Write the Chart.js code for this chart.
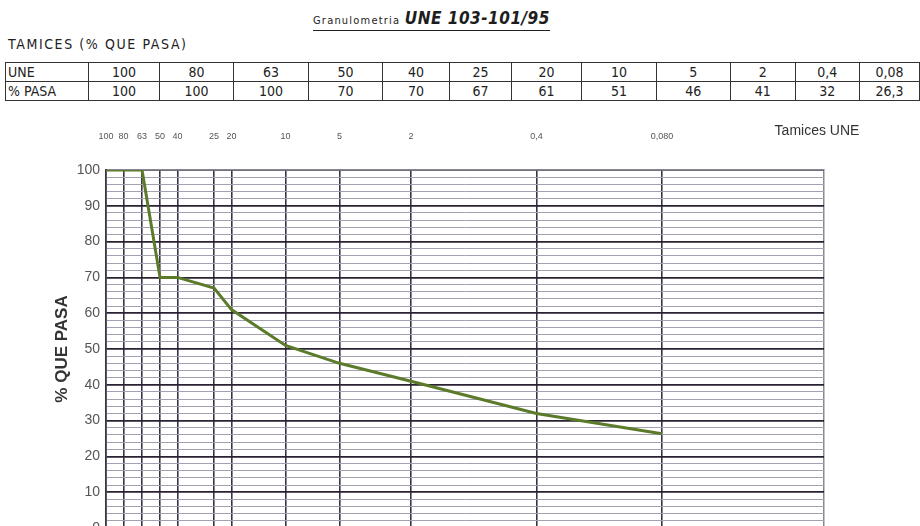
<!DOCTYPE html>
<html><head><meta charset="utf-8">
<script src="https://cdn.jsdelivr.net/npm/chart.js@4/dist/chart.umd.min.js"></script>
<style>
html,body{margin:0;padding:0;width:920px;height:526px;overflow:hidden;background:#fff;}
#title{position:absolute;left:313px;top:9px;white-space:nowrap;font-family:"DejaVu Sans Condensed","DejaVu Sans",sans-serif;color:#1e1e1e;border-bottom:1.5px solid #222;line-height:19px;}
#title .a{font-size:11px;letter-spacing:1.2px;}
#title .b{font-size:17px;font-style:italic;font-weight:bold;letter-spacing:0.5px;}
#sub{position:absolute;left:8px;top:36px;font-family:"DejaVu Sans Condensed","DejaVu Sans",sans-serif;font-size:14px;letter-spacing:1.6px;color:#222;}
#tbl{position:absolute;left:5px;top:62px;border-collapse:collapse;table-layout:fixed;font-family:"DejaVu Sans Condensed","DejaVu Sans",sans-serif;font-size:14px;color:#222;}
#tbl td{border:1.5px solid #333;height:18px;padding:0 2px;text-align:center;line-height:18px;overflow:hidden;white-space:nowrap;}
#tbl td.h{text-align:left;}
#wrap{position:absolute;left:0;top:110px;width:920px;height:440px;}
</style></head>
<body>
<div id="title"><span class="a">Granulometria</span> <span class="b">UNE 103-101/95</span></div>
<div id="sub">TAMICES (% QUE PASA)</div>
<table id="tbl"></table>
<div id="wrap"><canvas id="c"></canvas></div>
<script>
const sieves = [100, 80, 63, 50, 40, 25, 20, 10, 5, 2, 0.4, 0.08];
const tableSieveLabels = ['100','80','63','50','40','25','20','10','5','2','0,4','0,08'];
const axisTickLabels = ['100','80','63','50','40','25','20','10','5','2','0,4','0,080'];
const passing = [100, 100, 100, 70, 70, 67, 61, 51, 46, 41, 32, 26.3];
const passingLabels = ['100','100','100','70','70','67','61','51','46','41','32','26,3'];
const colWidths = [83, 72, 74, 76, 74, 68, 62, 71, 75, 75, 65, 65, 60];

// table
const tbl = document.getElementById('tbl');
const cg = document.createElement('colgroup');
colWidths.forEach(w => { const c = document.createElement('col'); c.style.width = w + 'px'; cg.appendChild(c); });
tbl.appendChild(cg);
[['UNE', tableSieveLabels], ['% PASA', passingLabels]].forEach(([h, vals]) => {
  const tr = document.createElement('tr');
  const th = document.createElement('td'); th.className = 'h'; th.textContent = h; tr.appendChild(th);
  vals.forEach(v => { const td = document.createElement('td'); td.textContent = v; tr.appendChild(td); });
  tbl.appendChild(tr);
});

const extraTitle = {
  id: 'extraTitle',
  afterDraw(chart) {
    const ctx = chart.ctx;
    ctx.save();
    ctx.font = '14px "Liberation Sans", Arial, sans-serif';
    ctx.fillStyle = '#333';
    ctx.textAlign = 'center';
    ctx.textBaseline = 'middle';
    ctx.fillText('Tamices UNE', 817, 21);
    ctx.restore();
  }
};

new Chart(document.getElementById('c'), {
  type: 'line',
  data: {
    datasets: [{
      data: sieves.map((s, i) => ({ x: s, y: passing[i] })),
      borderColor: '#5b7b2b',
      borderWidth: 3,
      pointRadius: 0,
      tension: 0,
      fill: false
    }]
  },
  options: {
    responsive: true,
    maintainAspectRatio: false,
    animation: false,
    layout: { padding: { left: 0, top: 0, right: 96, bottom: 22 } },
    plugins: { legend: { display: false }, tooltip: { enabled: false } },
    scales: {
      x: {
        type: 'logarithmic',
        position: 'top',
        reverse: true,
        min: 0.01,
        max: 100,
        afterBuildTicks: s => { s.ticks = sieves.concat([0.01]).map(v => ({ value: v })); },
        afterFit: s => { s.height = 60; },
        ticks: {
          autoSkip: false, maxRotation: 0, minRotation: 0,
          padding: 28,
          font: { size: 9, family: '"Liberation Sans", Arial, sans-serif' },
          color: '#555',
          callback: (v, i) => axisTickLabels[i] ?? ''
        },
        grid: {
          drawTicks: false,
          color: ctx => ctx.index === sieves.length ? '#8a8794' : '#3b3346',
          lineWidth: ctx => ctx.index === sieves.length ? 1.5 : 1.6
        },
        border: { display: true, color: '#8a8794', width: 1.5 }
      },
      y: {
        min: 0,
        max: 100,
        afterFit: s => { s.width = 106; },
        ticks: {
          stepSize: 2,
          autoSkip: false,
          padding: 6,
          font: { size: 14, family: '"Liberation Sans", Arial, sans-serif' },
          color: '#555',
          callback: v => (v % 10 === 0 ? String(v) : '')
        },
        grid: {
          drawTicks: false,
          color: ctx => (ctx.tick.value % 10 === 0 ? '#2a2233' : '#a3a1b1'),
          lineWidth: ctx => (ctx.tick.value % 10 === 0 ? 1.8 : 1)
        },
        border: { display: true, color: '#3b3346', width: 1.6 },
        title: {
          display: true,
          text: '% QUE PASA',
          color: '#333',
          font: { size: 17, weight: 'bold', family: '"Liberation Sans", Arial, sans-serif' },
          padding: { top: 52, bottom: 0 }
        }
      }
    }
  },
  plugins: [extraTitle]
});
</script>
</body></html>
